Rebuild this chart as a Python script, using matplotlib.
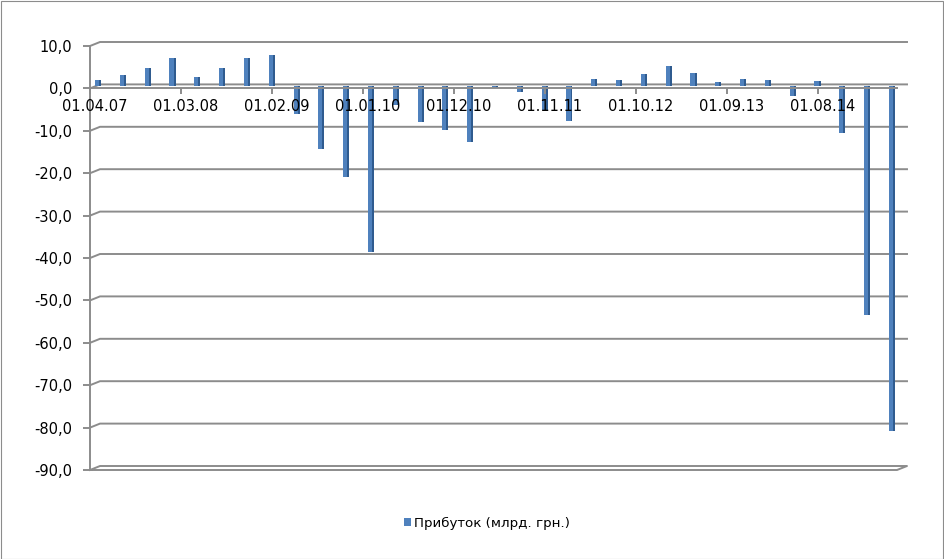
import matplotlib
matplotlib.use("Agg")
import matplotlib.pyplot as plt
from matplotlib.transforms import ScaledTranslation
from matplotlib.patches import Rectangle, Patch

# ---------------- data ----------------
dates = ["01.04.07", "01.07.07", "01.10.07",
         "01.01.08", "01.04.08", "01.07.08", "01.10.08",
         "01.01.09", "01.04.09", "01.07.09", "01.10.09",
         "01.01.10", "01.04.10", "01.07.10", "01.10.10",
         "01.01.11", "01.04.11", "01.07.11", "01.10.11",
         "01.01.12", "01.04.12", "01.07.12", "01.10.12",
         "01.01.13", "01.04.13", "01.07.13", "01.10.13",
         "01.01.14", "01.04.14", "01.07.14", "01.10.14",
         "01.01.15", "01.04.15"]
profit = [1.5, 2.8, 4.4,
          6.8, 2.2, 4.3, 6.8,
          7.5, -6.5, -14.7, -21.3,
          -39.0, -4.5, -8.5, -10.2,
          -13.2, -0.3, -1.3, -5.6,
          -8.2, 1.8, 1.6, 2.9,
          4.9, 3.1, 1.0, 1.8,
          1.4, -2.3, 1.3, -11.0,
          -54.0, -81.3]
tick_labels = ["01.04.07", "01.03.08", "01.02.09", "01.01.10", "01.12.10",
               "01.11.11", "01.10.12", "01.09.13", "01.08.14"]
y_ticks = [10, 0, -10, -20, -30, -40, -50, -60, -70, -80, -90]
series_name = "Прибуток (млрд. грн.)"


def month_index(d):
    dd, mm, yy = d.split(".")
    return (int(yy) - 7) * 12 + (int(mm) - 4)


xs = [month_index(d) + 0.5 for d in dates]
tick_pos = [month_index(t) for t in tick_labels]

# ---------------- style ----------------
plt.rcParams["font.family"] = ["DejaVu Sans"]
GRID = "#8c8c8c"
DPI = 100
W, H = 944, 559

fig = plt.figure(figsize=(W / DPI, H / DPI), dpi=DPI)
ax_left, ax_right, ax_top, ax_bot = 90, 897, 46, 470
ax = fig.add_axes([ax_left / W, 1 - ax_bot / H,
                   (ax_right - ax_left) / W, (ax_bot - ax_top) / H])
xmin, xmax = 0, 97.6
ymin, ymax = -90, 10
ax.set_xlim(xmin, xmax)
ax.set_ylim(ymin, ymax)
ax.patch.set_visible(False)
ax.set_axisbelow(False)

# pixel -> data conversions for the 3D depth offset
px_x = (xmax - xmin) / (ax_right - ax_left)
px_y = (ymax - ymin) / (ax_bot - ax_top)
dx = 10 * px_x
dy = 4 * px_y

lw = 1.4
# back-wall gridlines with slanted connector on the left wall
for v in y_ticks:
    if v == ymin:
        continue
    ax.plot([xmin, xmin + dx, xmax + dx], [v, v + dy, v + dy],
            color=GRID, lw=lw, clip_on=False, zorder=0.5,
            solid_joinstyle="miter")

# floor at the bottom
ax.plot([xmin, xmax, xmax + dx, xmin + dx, xmin],
        [ymin, ymin, ymin + dy, ymin + dy, ymin],
        color=GRID, lw=lw, clip_on=False, zorder=0.5)

# bars (front face + darker side face), shifted to mid depth
shift = ax.transData + ScaledTranslation(3 / DPI, 2 / DPI, fig.dpi_scale_trans)
bw = 0.5
front = ax.bar(xs, profit, width=bw, color="#4F81BD", zorder=2)
side = ax.bar([x + bw / 2 + 0.12 for x in xs], profit, width=0.24,
              color="#2F5B8F", zorder=2)
for p in list(front) + list(side):
    p.set_transform(shift)
    p.set_clip_on(False)

# spines
for s in ["top", "right"]:
    ax.spines[s].set_visible(False)
ax.spines["left"].set_color(GRID)
ax.spines["left"].set_linewidth(lw)
ax.spines["bottom"].set_position(("data", 0))
ax.spines["bottom"].set_color(GRID)
ax.spines["bottom"].set_linewidth(lw)

ax.set_yticks(y_ticks, [f"{v:.1f}".replace(".", ",") for v in y_ticks])
ax.set_xticks(tick_pos, tick_labels)
ax.tick_params(axis="y", direction="out", length=5, width=lw, color=GRID,
               pad=8, labelsize=10.5, labelcolor="black")
ax.tick_params(axis="x", direction="out", length=4, width=lw, color=GRID,
               pad=3.5, labelsize=10.5, labelcolor="black")
xoff = ScaledTranslation(5 / DPI, 0, fig.dpi_scale_trans)
for lab in ax.get_xticklabels():
    lab.set_transform(lab.get_transform() + xoff)

# legend
handle = Patch(facecolor="#4F81BD", edgecolor="none")
fig.legend([handle], [series_name], loc="center",
           bbox_to_anchor=(487 / W, 1 - 523 / H), frameon=False,
           fontsize=9.6, handlelength=0.55, handleheight=0.55,
           handletextpad=0.2)

# chart border
fig.add_artist(Rectangle((0.5 / W, 0.5 / H), 1 - 1.5 / W, 1 - 1.5 / H,
                         transform=fig.transFigure, fill=False,
                         edgecolor="#8c8c8c", lw=0.8))

fig.savefig("out.png", dpi=DPI)
